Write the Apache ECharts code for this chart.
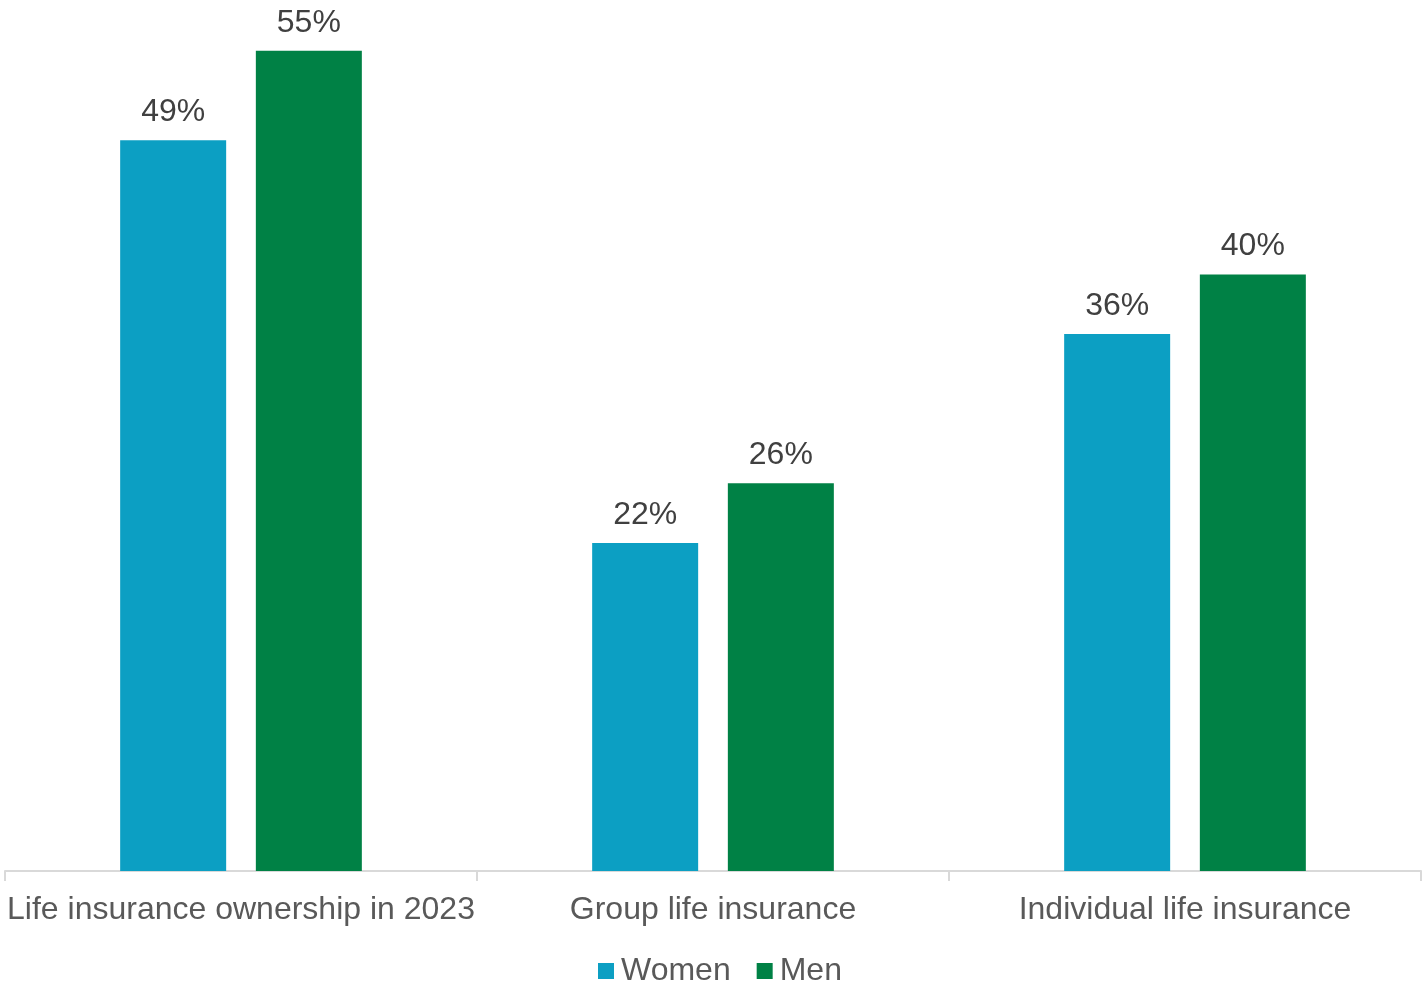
<!DOCTYPE html>
<html lang="en">

<head>
    <meta charset="UTF-8">
    <title>Life insurance ownership</title>
    <style>
        html, body { margin: 0; padding: 0; background: #fff; }
        #chart { width: 1425px; height: 984px; }
    </style>
</head>

<body>
    <div id="chart"></div>
</body>
<script type="text/javascript" src="https://cdn.jsdelivr.net/npm/echarts@6/dist/echarts.min.js"></script>
<script type="text/javascript">
    // 数据
    var categories = ['Life insurance ownership in 2023', 'Group life insurance', 'Individual life insurance'];
    var women = [49, 22, 36];
    var men = [55, 26, 40];

    var font = 'Liberation Sans, Arial, sans-serif';

    var option = {
        animation: false,
        grid: {
            left: 5,
            right: 4,
            top: 6,
            bottom: 113
        },
        legend: {
            bottom: -8,
            left: 593,
            itemWidth: 16,
            itemHeight: 16,
            itemGap: 26,
            icon: 'rect',
            textStyle: {
                fontFamily: font,
                fontSize: 32,
                color: '#595959',
                padding: [0, 0, 0, 2]
            },
            data: ['Women', 'Men']
        },
        xAxis: {
            type: 'category',
            data: categories,
            axisLine: { lineStyle: { color: '#d9d9d9', width: 2 } },
            axisTick: { show: true, interval: 0, length: 10, lineStyle: { color: '#d9d9d9', width: 2 } },
            axisLabel: {
                interval: 0,
                fontFamily: font,
                fontSize: 32,
                color: '#595959',
                margin: 23
            }
        },
        yAxis: {
            type: 'value',
            min: 0,
            max: 58,
            show: false,
            splitLine: { show: false }
        },
        series: [{
            name: 'Women',
            type: 'bar',
            data: women,
            barWidth: 106,
            barGap: '28%',
            itemStyle: { color: '#0c9fc3' },
            label: {
                show: true,
                position: 'top',
                distance: 12,
                formatter: '{c}%',
                fontFamily: font,
                fontSize: 32,
                color: '#404040'
            }
        }, {
            name: 'Men',
            type: 'bar',
            data: men,
            barWidth: 106,
            itemStyle: { color: '#008145' },
            label: {
                show: true,
                position: 'top',
                distance: 12,
                formatter: '{c}%',
                fontFamily: font,
                fontSize: 32,
                color: '#404040'
            }
        }]
    };

    var myChart = echarts.init(document.getElementById('chart'));
    myChart.setOption(option);
    window.onresize = function () {
        myChart.resize();
    };
</script>

</html>
